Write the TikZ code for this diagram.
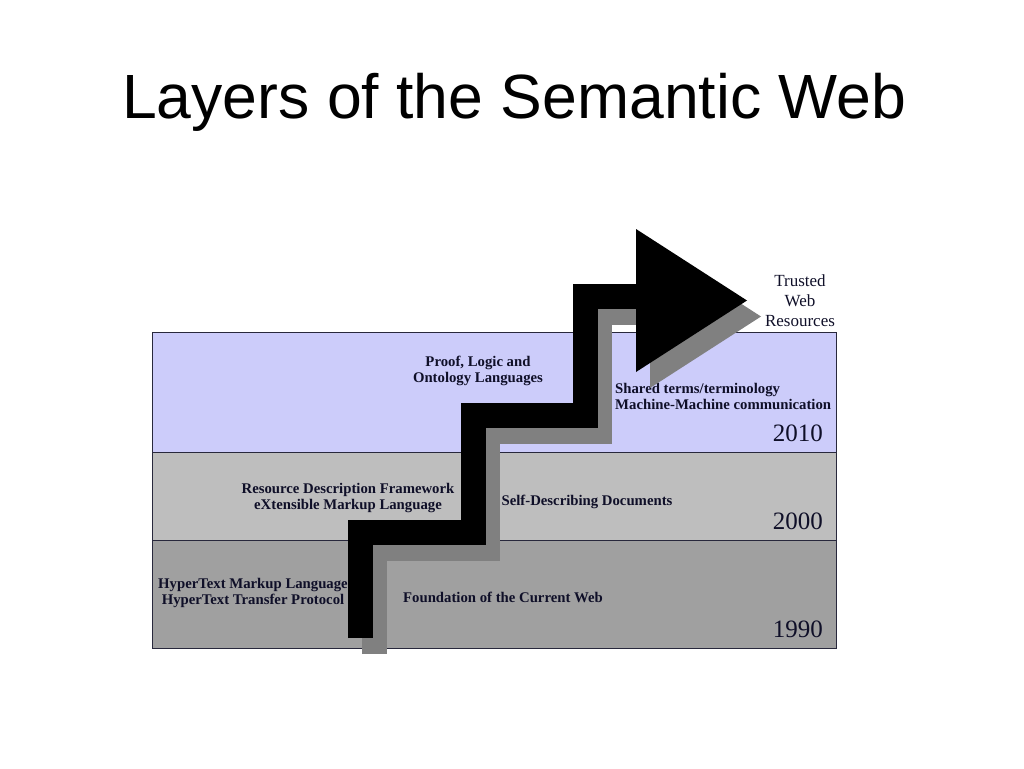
\documentclass[tikz,border=0pt]{standalone}
\usepackage{fontspec}
\setmainfont{Liberation Serif}
\newfontfamily\titlefont{Liberation Sans}
\definecolor{band10}{RGB}{204,204,250}
\definecolor{band00}{RGB}{190,190,190}
\definecolor{band90}{RGB}{160,160,160}
\definecolor{shadowgray}{RGB}{128,128,128}
\definecolor{rim}{RGB}{40,40,60}
\definecolor{ink}{RGB}{15,15,40}
\tikzset{
	layertext/.style={inner sep=0pt, align=center, text=ink, font=\bfseries\fontsize{14.75}{16}\selectfont},
	yeartext/.style={inner sep=0pt, anchor=base east, text=ink, font=\fontsize{25}{28}\selectfont}
}
\begin{document}
\begin{tikzpicture}[x=1pt, y=-1pt]
			\useasboundingbox (0,0) rectangle (1024,768);
			%title
			\node (title) [anchor=base west, inner sep=0pt, font=\titlefont\fontsize{62.5}{70}\selectfont] at (122,118){Layers of the Semantic Web};
			
			%bands
			\foreach \ya/\yb/\col in {332/452/band10, 452/540/band00, 540/648/band90}{
				\draw[rim, fill=\col, thin] (152, \ya) rectangle (836, \yb);
			}
			
			%layer texts
			\node (proof) [layertext] at (478, 371){Proof, Logic and\\Ontology Languages};
			\node (rdf) [layertext] at (348, 498){Resource Description Framework\\eXtensible Markup Language};
			\node (html) [layertext] at (253, 593){HyperText Markup Language\\HyperText Transfer Protocol};
			\node (selfdesc) [layertext] at (587, 502){Self-Describing Documents};
			\node (found) [layertext] at (503, 597){Foundation of the Current Web};
			\node (shared) [layertext, anchor=west, align=left] at (615, 396){Shared terms/terminology\\Machine-Machine communication};
			\node (trusted) [inner sep=0pt, align=center, text=ink, font=\fontsize{17}{20}\selectfont] at (800, 301){Trusted\\Web\\Resources};
			
			%years
			\node (y2010) [yeartext] at (823, 441){2010};
			\node (y2000) [yeartext] at (823, 529){2000};
			\node (y1990) [yeartext] at (823, 637){1990};
			
			%stair arrow and its shadow
			\foreach \dx/\dy/\col in {14/16/shadowgray, 0/0/black}{
				\begin{scope}[shift={(\dx, \dy)}]
					\draw[draw=\col, line width=25pt, line join=miter] (360.5, 638) |- (473.5, 532.5) |- (585.5, 415.5) |- (640, 296.5);
					\fill[fill=\col] (636, 229) -- (747, 300.5) -- (636, 372) -- cycle;
				\end{scope}
			}
		\end{tikzpicture}
\end{document}
